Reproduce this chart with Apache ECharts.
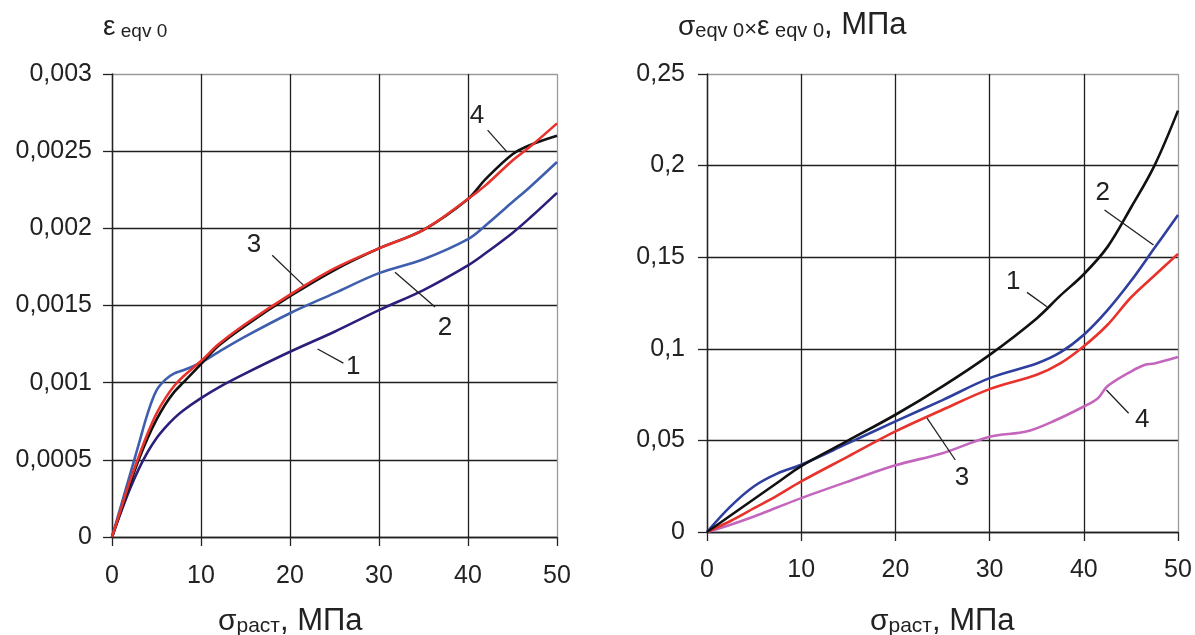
<!DOCTYPE html>
<html>
<head>
<meta charset="utf-8">
<script src="https://cdn.jsdelivr.net/npm/echarts@6/dist/echarts.min.js"></script>
<style>
  html, body { margin: 0; padding: 0; background: #fff; }
  #chart { width: 1195px; height: 635px; }
</style>
</head>
<body>
<div id="chart"></div>
<script>
// ---- Left panel: equivalent strain vs tensile stress ----
const leftX = [0, 1, 2, 3, 4, 5, 6, 7, 8, 10, 12, 15, 20, 25, 30, 35, 40, 42, 45, 47, 50];
const leftCurve1 = [0, 0.00016, 0.00031, 0.00044, 0.00055, 0.00064, 0.00071, 0.00077, 0.00082, 0.0009, 0.00097, 0.00106, 0.0012, 0.00133, 0.00147, 0.0016, 0.00176, 0.00184, 0.00197, 0.00207, 0.00223];
const leftCurve2 = [0, 0.0002, 0.0004, 0.0006, 0.0008, 0.00095, 0.00102, 0.00106, 0.00108, 0.00113, 0.0012, 0.0013, 0.00145, 0.00158, 0.00171, 0.0018, 0.00193, 0.00202, 0.00217, 0.00227, 0.00243];
const leftCurve3 = [0, 0.00018, 0.00036, 0.00052, 0.00067, 0.0008, 0.0009, 0.00098, 0.00104, 0.00114, 0.00125, 0.00138, 0.00157, 0.00174, 0.00187, 0.00199, 0.00219, 0.00228, 0.00244, 0.00253, 0.00268];
const leftCurve4 = [0, 0.00017, 0.00034, 0.0005, 0.00064, 0.00076, 0.00086, 0.00094, 0.001, 0.00112, 0.00124, 0.00137, 0.00156, 0.00173, 0.00187, 0.00199, 0.00219, 0.00232, 0.00248, 0.00254, 0.0026];

// ---- Right panel: product sigma*epsilon vs tensile stress ----
const rightX = [0, 2.5, 5, 7.5, 10, 15, 20, 25, 30, 35, 37.5, 40, 42.5, 45, 47.5, 50];
const rightCurve1 = [0, 0.009, 0.018, 0.027, 0.036, 0.05, 0.064, 0.0795, 0.0967, 0.1166, 0.129, 0.1407, 0.1555, 0.177, 0.2, 0.23];
const rightCurve2 = [0, 0.014, 0.025, 0.032, 0.0367, 0.0485, 0.0604, 0.072, 0.084, 0.092, 0.098, 0.1077, 0.121, 0.137, 0.155, 0.173];
const rightCurve3 = [0, 0.006, 0.013, 0.02, 0.0276, 0.0413, 0.0549, 0.0667, 0.078, 0.0858, 0.092, 0.1014, 0.113, 0.128, 0.14, 0.1518];
const rightX4 = [0, 2.5, 5, 7.5, 10, 15, 20, 25, 30, 34, 37, 40, 41.5, 42.5, 45, 46.5, 47.5, 50];
const rightCurve4 = [0, 0.004, 0.0085, 0.0135, 0.0185, 0.0276, 0.0364, 0.043, 0.052, 0.055, 0.061, 0.0685, 0.073, 0.0795, 0.0876, 0.0913, 0.092, 0.0955];

// curve number labels with leader lines, in data coordinates
const leftNotes = [
  { text: '4', at: [41.0, 0.00273], from: [42.2, 0.002636], to: [44.4, 0.002494] },
  { text: '3', at: [15.96, 0.00189], from: [18.0, 0.001826], to: [21.5, 0.001632] },
  { text: '2', at: [37.4, 0.001354], from: [31.8, 0.001716], to: [36.3, 0.00149] },
  { text: '1', at: [27.1, 0.0011], from: [23.1, 0.001218], to: [26.0, 0.001127] }
];
const rightNotes = [
  { text: '1', at: [32.5, 0.1365], from: [33.97, 0.1308], to: [36.09, 0.123] },
  { text: '2', at: [42.0, 0.185], from: [42.2, 0.1758], to: [47.4, 0.1567] },
  { text: '3', at: [27.07, 0.0293], from: [23.36, 0.0621], to: [26.36, 0.0393] },
  { text: '4', at: [46.2, 0.0611], from: [42.4, 0.0775], to: [44.76, 0.0648] }
];

const FONT = 'Liberation Sans, Arial, sans-serif';
const INK = '#222222';
const GRID_IN = '#1f1f1f';
const GRID_EDGE = '#9a9a9a';

const pairs = (xs, ys) => xs.map((x, i) => [x, ys[i]]);
const comma = v => String(+(+v).toPrecision(6)).replace('.', ',');

function xAxisFor(gridIndex, margin) {
  return {
    type: 'value', gridIndex, min: 0, max: 50, interval: 10,
    axisLine: { show: true, lineStyle: { color: INK, width: 1.3 } },
    axisTick: { show: true, length: 9, lineStyle: { color: INK, width: 1.3 } },
    axisLabel: { color: INK, fontSize: 25, fontFamily: FONT, margin },
    splitLine: { show: true, lineStyle: { color: [GRID_IN, GRID_IN, GRID_IN, GRID_IN, GRID_IN, GRID_EDGE], width: 1.3 } }
  };
}
function yAxisFor(gridIndex, max, interval, count, margin) {
  const cols = [];
  for (let i = 0; i < count; i++) cols.push(i === count - 1 ? GRID_EDGE : GRID_IN);
  return {
    type: 'value', gridIndex, min: 0, max, interval,
    axisLine: { show: true, lineStyle: { color: INK, width: 1.3 } },
    axisTick: { show: true, length: 9, lineStyle: { color: INK, width: 1.3 } },
    axisLabel: { color: INK, fontSize: 25, fontFamily: FONT, margin, formatter: comma },
    splitLine: { show: true, lineStyle: { color: cols, width: 1.3 } }
  };
}
function curve(name, xi, yi, xs, ys, color) {
  return {
    name, type: 'line', xAxisIndex: xi, yAxisIndex: yi,
    data: pairs(xs, ys), smooth: 0.35, showSymbol: false, symbol: 'none',
    lineStyle: { color, width: 2.6 }, z: 3
  };
}
const tok = (size, lh) => ({ fontSize: size, fontFamily: FONT, fontWeight: 'normal', color: INK, lineHeight: lh, verticalAlign: 'bottom' });

const chart = echarts.init(document.getElementById('chart'), null, { renderer: 'canvas' });

chart.setOption({
  animation: false,
  backgroundColor: '#ffffff',
  textStyle: { fontFamily: FONT },
  title: [
    {
      left: 98, top: 6,
      text: '{g|ε}{s| eqv 0}',
      textStyle: { fontWeight: 'normal', rich: { g: tok(28, 30), s: tok(19, 25) } }
    },
    {
      left: 673, top: 2,
      text: '{g|σ}{s|eqv 0}{x|×}{g|ε}{s| eqv 0}{m|, МПа}',
      textStyle: { fontWeight: 'normal', rich: { g: tok(28, 30), s: tok(20, 25), x: tok(22, 33), m: tok(31, 34) } }
    },
    {
      left: 213, top: 598,
      text: '{g|σ}{s|раст}{m|, МПа}',
      textStyle: { fontWeight: 'normal', rich: { g: tok(30, 34), s: tok(21, 27), m: tok(31, 34) } }
    },
    {
      left: 865, top: 598,
      text: '{g|σ}{s|раст}{m|, МПа}',
      textStyle: { fontWeight: 'normal', rich: { g: tok(30, 34), s: tok(21, 27), m: tok(31, 34) } }
    }
  ],
  grid: [
    { left: 112, right: 638, top: 74, bottom: 98 },
    { left: 707, right: 17, top: 74, bottom: 103 }
  ],
  xAxis: [xAxisFor(0, 27), xAxisFor(1, 26)],
  yAxis: [
    yAxisFor(0, 0.003, 0.0005, 7, 20),
    yAxisFor(1, 0.25, 0.05, 6, 22)
  ],
  series: [
    curve('1', 0, 0, leftX, leftCurve1, '#2a1f7a'),
    curve('2', 0, 0, leftX, leftCurve2, '#3f5fae'),
    curve('4', 0, 0, leftX, leftCurve4, '#111111'),
    curve('3', 0, 0, leftX, leftCurve3, '#e8322c'),
    curve('4', 1, 1, rightX4, rightCurve4, '#c466bd'),
    curve('3', 1, 1, rightX, rightCurve3, '#e8322c'),
    curve('2', 1, 1, rightX, rightCurve2, '#2f3f9e'),
    curve('1', 1, 1, rightX, rightCurve1, '#111111')
  ]
});

// curve numbers and their leader lines, placed through the axes' own scales
function noteGraphics(notes, gridIndex) {
  const out = [];
  notes.forEach(n => {
    const p = chart.convertToPixel({ gridIndex }, n.at);
    const a = chart.convertToPixel({ gridIndex }, n.from);
    const b = chart.convertToPixel({ gridIndex }, n.to);
    out.push({
      type: 'line', z: 10,
      shape: { x1: a[0], y1: a[1], x2: b[0], y2: b[1] },
      style: { stroke: INK, lineWidth: 1.3 }
    });
    out.push({
      type: 'text', z: 10, x: p[0], y: p[1],
      style: { text: n.text, fill: INK, font: '26px ' + FONT, align: 'center', verticalAlign: 'middle' }
    });
  });
  return out;
}
chart.setOption({ graphic: noteGraphics(leftNotes, 0).concat(noteGraphics(rightNotes, 1)) });
</script>
</body>
</html>
